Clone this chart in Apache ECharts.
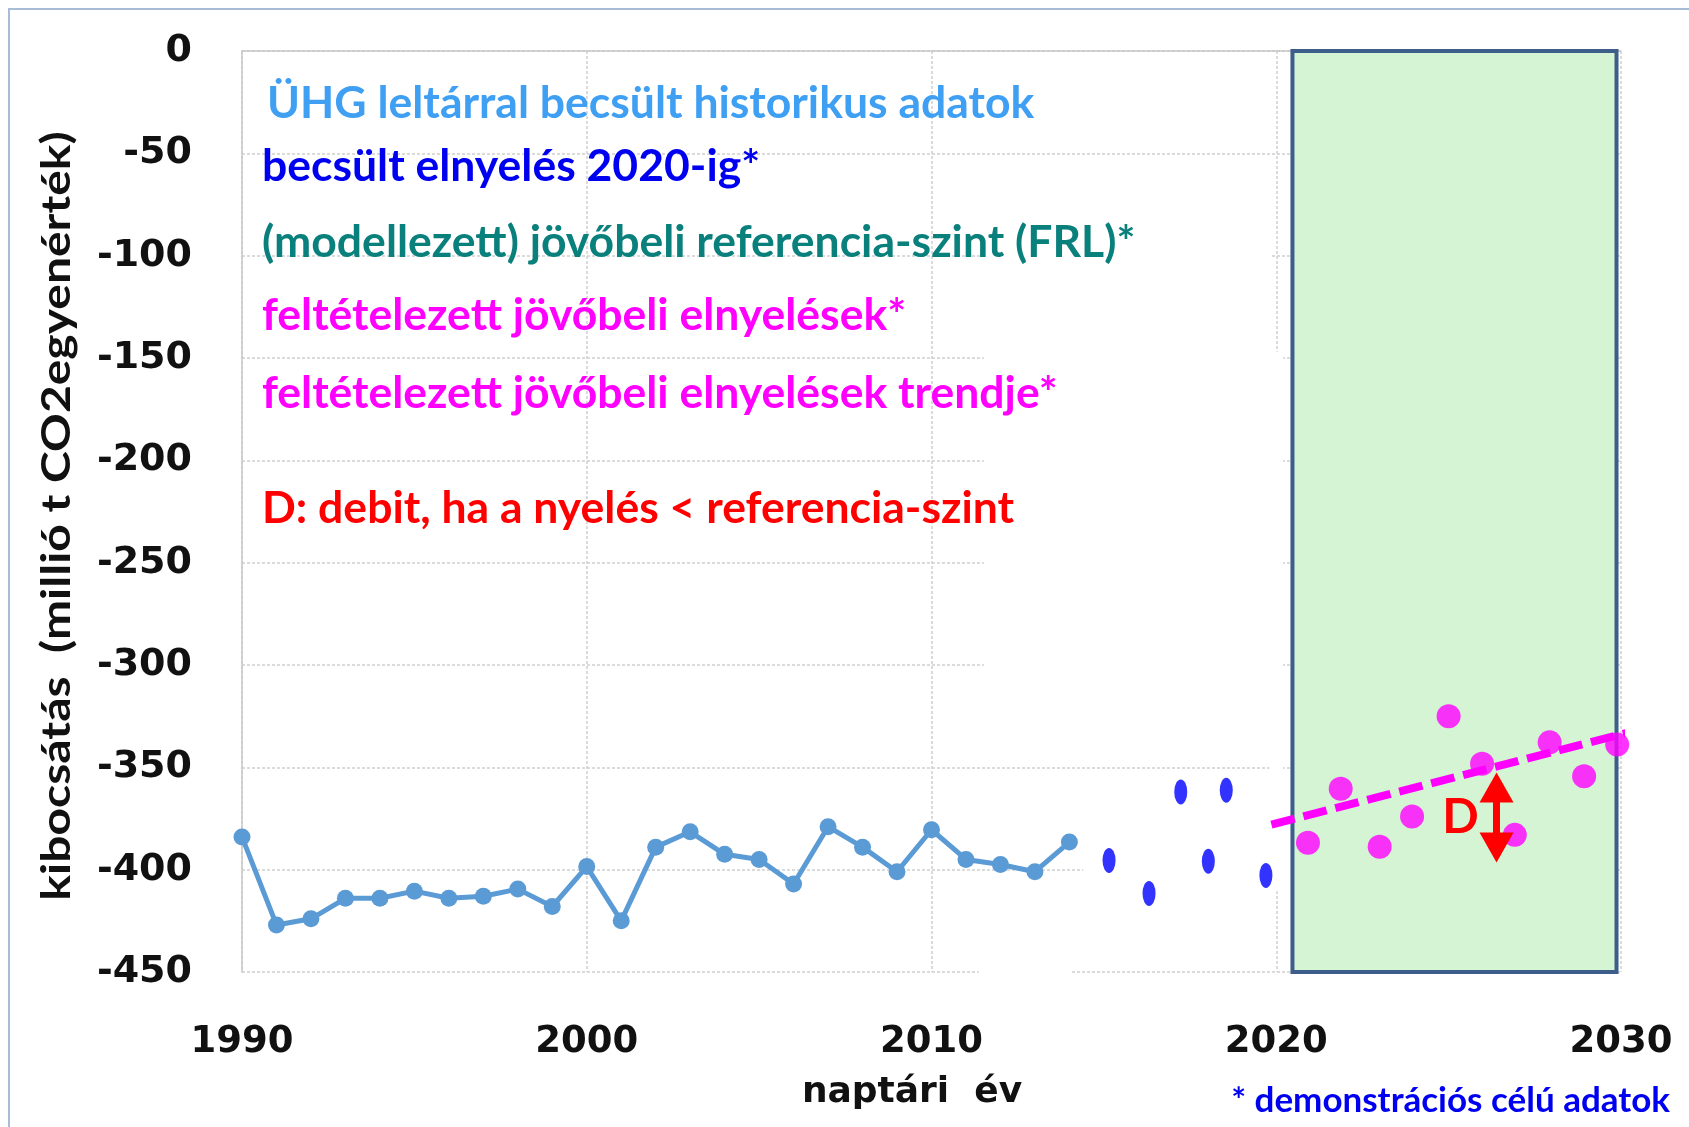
<!DOCTYPE html>
<html>
<head>
<meta charset="utf-8">
<script src="https://cdn.jsdelivr.net/npm/echarts@6/dist/echarts.min.js"></script>
<style>
  html, body { margin: 0; padding: 0; background: #fff; }
  #chart { width: 1689px; height: 1127px; }
</style>
</head>
<body>
<div id="chart"></div>
<script>
// ÜHG leltárral becsült historikus adatok
const years = [1990, 1991, 1992, 1993, 1994, 1995, 1996, 1997, 1998, 1999, 2000, 2001, 2002,
  2003, 2004, 2005, 2006, 2007, 2008, 2009, 2010, 2011, 2012, 2013, 2014]
const historic = [-384, -427, -424, -414, -414, -410.5, -414, -413, -409.5, -418, -398.5, -425, -389,
  -381.5, -392.5, -395, -407, -379, -389, -401, -380.5, -395, -397.5, -401, -386.5]

// becsült elnyelés 2020-ig*
const estYears = [2015.15, 2016.31, 2017.23, 2018.03, 2018.55, 2019.7]
const estValues = [-395.5, -411.6, -362, -395.9, -361.2, -402.8]

// feltételezett jövőbeli elnyelések*
const futureYears = [2020.92, 2021.87, 2023.0, 2023.94, 2025.0, 2025.97, 2026.92, 2027.93, 2028.93, 2029.89]
const futureValues = [-386.9, -360.5, -388.8, -374, -325, -348.3, -383, -337.8, -354.4, -338.9]

// trend
const trendYears = [2019.86, 2030.2]
const trendValues = [-378, -333]

// elszámolási időszak (zöld doboz)
const periodYears = [2020.47, 2029.87]
const periodValues = [0, -450]

// D: debit nyíl (csúcsok)
const debitYear = 2026.39
const debitValues = [-352.5, -396.5]

// szövegek
const legendTexts = [
  { text: 'ÜHG leltárral becsült historikus adatok', color: '#3f9ff2' },
  { text: 'becsült elnyelés 2020-ig*', color: '#0000f0' },
  { text: '(modellezett) jövőbeli referencia-szint (FRL)*', color: '#0a807c' },
  { text: 'feltételezett jövőbeli elnyelések*', color: '#ff00ff' },
  { text: 'feltételezett jövőbeli elnyelések trendje*', color: '#ff00ff' },
  { text: 'D: debit, ha a nyelés < referencia-szint', color: '#ff0000' },
]
const legendY = [104, 167, 243, 316, 394, 509]

const GRID_COLOR = '#cfcfcf'
const TEXT_FONT = 'Lato'
const AXIS_FONT = 'DejaVu Sans'
const ARROW_HEAD = 30 // px

const chart = echarts.init(document.getElementById('chart'))

// nyílhegy fele értékben (a háló magasságából)
const unitPx = (1127 - 51 - 155) / 450
const headShift = ARROW_HEAD / 2 / unitPx

const option = {
  animation: false,
  backgroundColor: '#fff',
  grid: { left: 242, right: 68, top: 51, bottom: 155 },
  xAxis: {
    type: 'value',
    min: 1990,
    max: 2030,
    interval: 10,
    axisLine: { lineStyle: { color: '#c8c8c8', width: 1.5 } },
    axisTick: { show: false },
    axisLabel: {
      margin: 52,
      color: '#111',
      fontFamily: AXIS_FONT,
      fontWeight: 'bold',
      fontSize: 37,
      formatter: v => String(v),
    },
    splitLine: { show: true, lineStyle: { color: GRID_COLOR, type: [3, 2], width: 1.5 } },
  },
  yAxis: {
    type: 'value',
    min: -450,
    max: 0,
    interval: 50,
    axisLine: { show: true, lineStyle: { color: '#c8c8c8', width: 1.5 } },
    axisTick: { show: false },
    axisLabel: {
      margin: 50,
      color: '#111',
      fontFamily: AXIS_FONT,
      fontWeight: 'bold',
      fontSize: 38,
    },
    splitLine: { show: true, lineStyle: { color: GRID_COLOR, type: [3, 2], width: 1.5 } },
  },
  series: [
    // zöld doboz
    {
      type: 'line',
      z: 1,
      data: [],
      silent: true,
      markArea: {
        silent: true,
        itemStyle: { color: '#d4f4d4', borderColor: '#3d5e8a', borderWidth: 4 },
        data: [[
          { coord: [periodYears[0], periodValues[0]] },
          { coord: [periodYears[1], periodValues[1]] },
        ]],
      },
    },
    // historikus
    {
      type: 'line',
      z: 3,
      data: years.map((y, i) => [y, historic[i]]),
      symbol: 'circle',
      symbolSize: 17,
      lineStyle: { color: '#5b9bd5', width: 5 },
      itemStyle: { color: '#5b9bd5' },
    },
    // becsült elnyelés
    {
      type: 'scatter',
      z: 3,
      data: estYears.map((y, i) => [y, estValues[i]]),
      symbol: 'circle',
      symbolSize: [13, 25],
      itemStyle: { color: '#0000ff' },
    },
    // trend
    {
      type: 'line',
      z: 3,
      data: trendYears.map((y, i) => [y, trendValues[i]]),
      symbol: 'none',
      lineStyle: { color: '#ff00ff', width: 8, type: [24, 9] },
    },
    // jövőbeli elnyelések
    {
      type: 'scatter',
      z: 4,
      data: futureYears.map((y, i) => [y, futureValues[i]]),
      symbol: 'circle',
      symbolSize: 24,
      itemStyle: { color: '#ff00ff' },
    },
    // D nyíl
    {
      type: 'line',
      z: 5,
      data: [],
      markLine: {
        silent: true,
        symbol: ['triangle', 'triangle'],
        symbolSize: [34, ARROW_HEAD],
        label: { show: false },
        lineStyle: { color: '#ff0000', width: 7, type: 'solid' },
        data: [[
          { coord: [debitYear, debitValues[0] - headShift] },
          { coord: [debitYear, debitValues[1] + headShift] },
        ]],
      },
    },
  ],
}

chart.setOption(option)

// pixel helper
const px = (x, y) => chart.convertToPixel({ gridIndex: 0 }, [x, y])

// fehér takarások a rácsvonalakon (mint az eredetin)
function maskRect(x0, y0, x1, y1) {
  const a = px(x0, y0)
  const b = px(x1, y1)
  return {
    type: 'rect',
    z: 0.5,
    silent: true,
    shape: {
      x: Math.min(a[0], b[0]),
      y: Math.min(a[1], b[1]),
      width: Math.abs(b[0] - a[0]),
      height: Math.abs(b[1] - a[1]),
    },
    style: { fill: '#fff' },
  }
}

const arrowMid = px(debitYear, (debitValues[0] + debitValues[1]) / 2)

const graphics = [
  maskRect(2011.52, -75, 2019.87, -325),
  maskRect(2019.8, -147, 2020.2, -410.5),
  maskRect(2014.4, -390, 2020.4, -410),
  maskRect(2011.37, -446, 2014.07, -456),
  // keret
  {
    type: 'rect',
    z: 10,
    silent: true,
    shape: { x: 9, y: 9, width: 1700, height: 1200 },
    style: { fill: 'none', stroke: '#a8bcd8', lineWidth: 2 },
  },
  // y tengely neve
  {
    type: 'text',
    z: 10,
    x: 57,
    y: 516,
    rotation: Math.PI / 2,
    scaleX: 1.2,
    style: {
      text: 'kibocsátás  (millió t CO2egyenérték)',
      font: 'bold 40px ' + TEXT_FONT,
      fill: '#111',
      textAlign: 'center',
      textVerticalAlign: 'middle',
    },
  },
  // x tengely neve
  {
    type: 'text',
    z: 10,
    x: 912,
    y: 1093,
    style: {
      text: 'naptári  év',
      font: 'bold 36px ' + AXIS_FONT,
      fill: '#111',
      textAlign: 'center',
      textVerticalAlign: 'middle',
    },
  },
  // lábjegyzet
  {
    type: 'text',
    z: 10,
    x: 1670,
    y: 1101,
    style: {
      text: '* demonstrációs célú adatok',
      font: 'bold 35px ' + TEXT_FONT,
      fill: '#0000f0',
      textAlign: 'right',
      textVerticalAlign: 'middle',
    },
  },
  // D betű
  {
    type: 'text',
    z: 10,
    x: arrowMid[0] - 36,
    y: arrowMid[1],
    style: {
      text: 'D',
      font: 'bold 48px ' + TEXT_FONT,
      fill: '#ff0000',
      textAlign: 'center',
      textVerticalAlign: 'middle',
    },
  },
]

legendTexts.forEach((item, i) => {
  graphics.push({
    type: 'text',
    z: 10,
    x: i === 0 ? 267 : 262,
    y: legendY[i],
    style: {
      text: item.text,
      font: 'bold 44.5px ' + TEXT_FONT,
      fill: item.color,
      textAlign: 'left',
      textVerticalAlign: 'middle',
    },
  })
})

chart.setOption({ graphic: graphics })
</script>
</body>
</html>
